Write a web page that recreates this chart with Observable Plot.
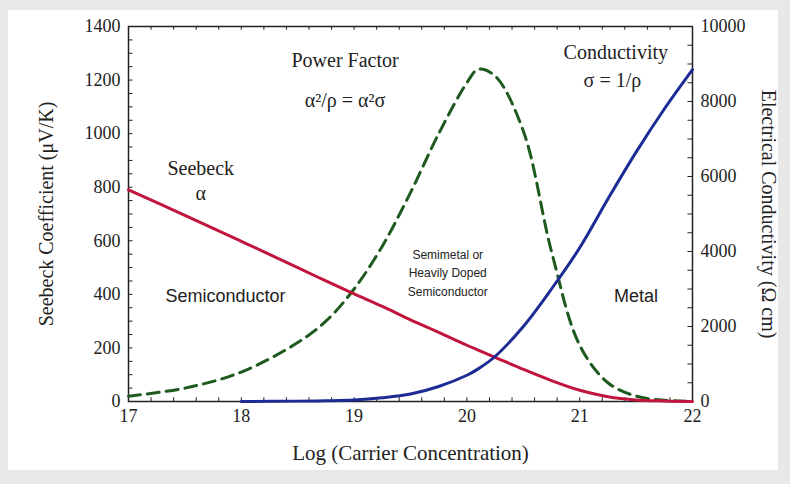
<!DOCTYPE html>
<html><head><meta charset="utf-8">
<script src="https://cdn.jsdelivr.net/npm/d3@7"></script>
<script src="https://cdn.jsdelivr.net/npm/@observablehq/plot@0.6"></script>
<style>
body{margin:0;background:#e8e8e8;}
#chart{position:absolute;left:8px;top:10px;width:770px;height:460px;background:#fff;}
#chart svg{overflow:visible;}
</style></head><body><div id="chart"></div>
<script>
const xs = [17, 17.5, 18, 18.5, 18.75, 19, 19.25, 19.5, 19.75, 20, 20.1, 20.25, 20.5, 20.75, 21, 21.25, 21.5, 21.75, 22]
const seebeck = [790, 695, 598, 500, 450, 402, 355, 305, 258, 210, 192, 165, 120, 78, 42, 18, 6, 2, 0]
const power = [20, 50, 110, 220, 300, 420, 580, 780, 1000, 1190, 1240, 1215, 1010, 560, 210, 70, 20, 5, 0]
const conduct = [0, 0, 0, 10, 20, 40, 100, 200, 400, 700, 870, 1200, 2000, 3000, 4100, 5400, 6650, 7800, 8850]
const rightTicks = [0, 2000, 4000, 6000, 8000, 10000]
const k = 0.14 // right axis units -> left axis units

const rows = xs.map((x, i) => ({x, s: seebeck[i], p: power[i], c: conduct[i] * k}))
const serif = "Liberation Serif"
const ax = {tickSize: 0, tickPadding: 8, fontFamily: serif, fontSize: 18, label: null}

let chart = Plot.plot({
  width: 770, height: 460,
  marginLeft: 120, marginRight: 86, marginTop: 16, marginBottom: 69,
  style: {fontFamily: serif, fontSize: "18px", color: "#222"},
  x: {domain: [17, 22], label: null},
  y: {domain: [0, 1400], label: null},
  marks: [
    Plot.frame({stroke: "#222", strokeWidth: 1.5}),
    Plot.axisX(d3.range(17, 23), {...ax, tickFormat: d3.format("d")}),
    Plot.axisY(d3.range(0, 1401, 200), {...ax, anchor: "left", tickFormat: d3.format("d")}),
    Plot.axisY(rightTicks.map(d => d * k), {...ax, anchor: "right", tickFormat: d => d3.format("d")(Math.round(d / k))}),
    Plot.ruleX(d3.range(17, 22.01, 0.2), {x: d => d, y1: 0, y2: 14, stroke: "#222"}),
    Plot.ruleX(d3.range(17, 22.01, 0.2), {x: d => d, y1: 1386, y2: 1400, stroke: "#222"}),
    Plot.ruleY(d3.range(0, 1401, 50), {y: d => d, x1: 17, x2: 17.04, stroke: "#222"}),
    Plot.ruleY(d3.range(0, 10001, 500).map(d => d * k), {y: d => d, x1: 21.96, x2: 22, stroke: "#222"}),
    Plot.line(rows, {x: "x", y: "p", curve: "catmull-rom", stroke: "#1e5a1e", strokeWidth: 3, strokeDasharray: "12,7"}),
    Plot.line(rows, {x: "x", y: "s", curve: "catmull-rom", stroke: "#c0163e", strokeWidth: 3}),
    Plot.line(rows.filter(d => d.x >= 18), {x: "x", y: "c", curve: "catmull-rom", stroke: "#1c2c94", strokeWidth: 3}),
    Plot.text(["Power Factor"], {x: 18.92, y: 1273, fontSize: 20}),
    Plot.text(["α²/ρ = α²σ"], {x: 18.92, y: 1124, fontSize: 20}),
    Plot.text(["Conductivity"], {x: 21.32, y: 1302, fontSize: 20}),
    Plot.text(["σ = 1/ρ"], {x: 21.29, y: 1198, fontSize: 20}),
    Plot.text(["Seebeck"], {x: 17.64, y: 870, fontSize: 20}),
    Plot.text(["α"], {x: 17.64, y: 776, fontSize: 20}),
    Plot.text(["Semiconductor"], {x: 17.86, y: 392, fontSize: 18, fontFamily: "Liberation Sans"}),
    Plot.text(["Metal"], {x: 21.5, y: 392, fontSize: 18, fontFamily: "Liberation Sans"}),
    Plot.text(["Semimetal or", "Heavily Doped", "Semiconductor"], {x: 19.83, y: (d, i) => [545, 478, 410][i], fontSize: 12, fontFamily: "Liberation Sans"}),
    Plot.text(["Log (Carrier Concentration)"], {frameAnchor: "bottom", dy: 58, fontSize: 21}),
    Plot.text(["Seebeck Coefficient (μV/K)"], {frameAnchor: "left", textAnchor: "middle", dx: -82, rotate: -90, fontSize: 20}),
    Plot.text(["Electrical Conductivity (Ω cm)"], {frameAnchor: "right", textAnchor: "middle", dx: 76, rotate: 90, fontSize: 20})
  ]
})
d3.select('#chart').append(() => chart)
</script></body></html>
